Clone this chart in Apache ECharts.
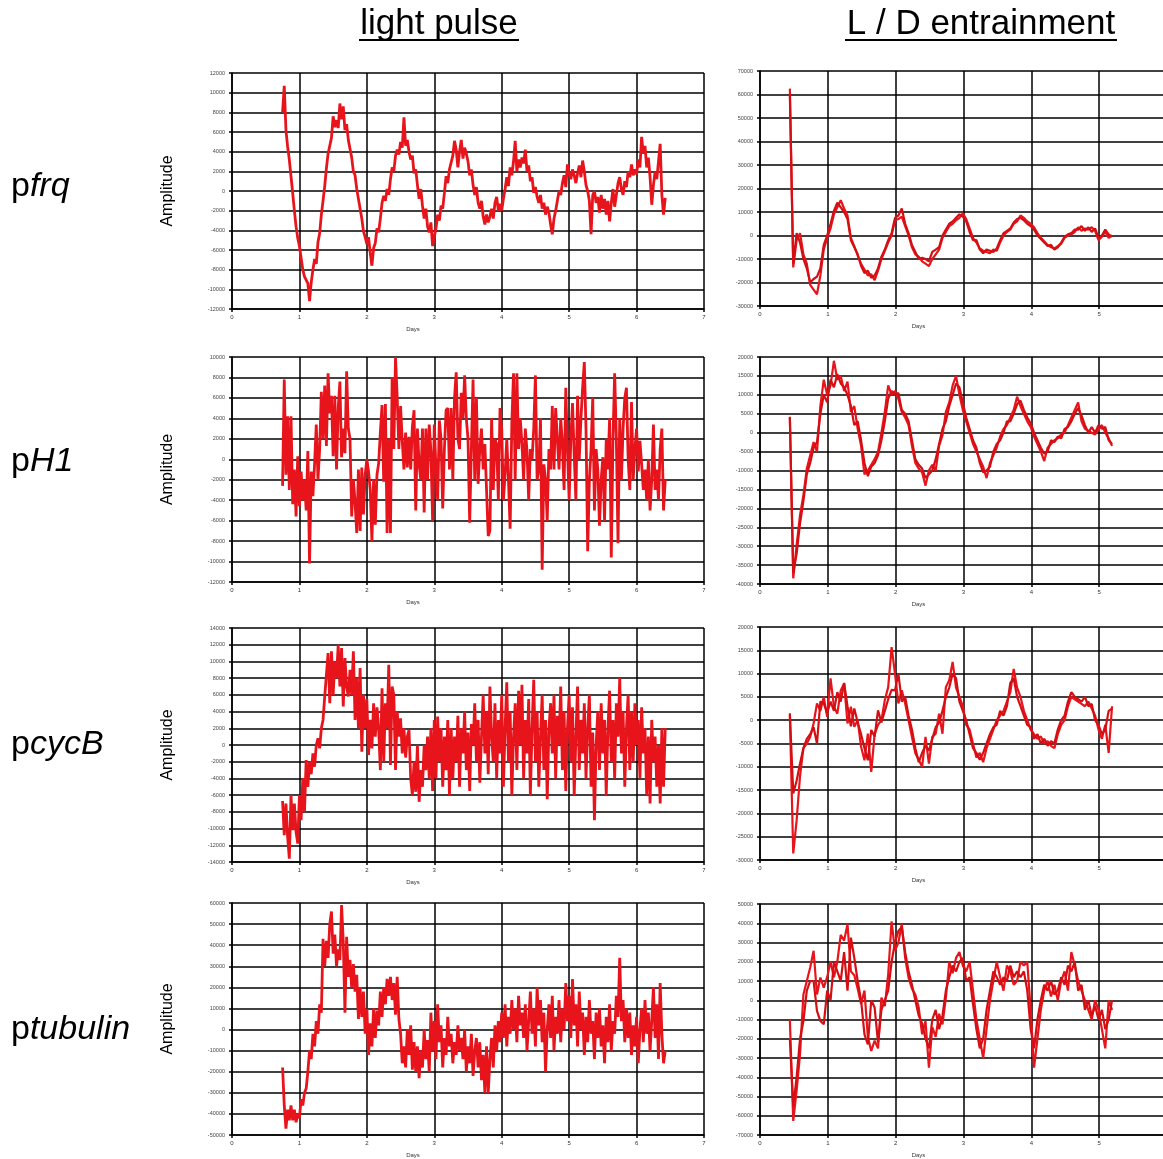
<!DOCTYPE html>
<html><head><meta charset="utf-8">
<script src="https://cdn.jsdelivr.net/npm/echarts@6/dist/echarts.min.js"></script>
<style>html,body{margin:0;padding:0;background:#fff;overflow:hidden}#c{width:1180px;height:1159px}</style>
</head><body><div id="c"></div>
<script>
// ---- sampling (days) ----
const pulseStart = 0.75, pulseStep = 0.025;
const ldStart = 0.44, ldStep = 0.05;

// ---- column titles / row labels ----
const columnTitles = ["light pulse", "L / D entrainment"];
const rowPrefix = ["p", "p", "p", "p"];
const rowGene = ["frq", "H1", "cycB", "tubulin"];

// ---- axis ranges ----
const pulseYMin = [-12000, -12000, -14000, -50000];
const pulseYMax = [12000, 10000, 14000, 60000];
const pulseYStep = [2000, 2000, 2000, 10000];
const ldYMin = [-30000, -40000, -30000, -70000];
const ldYMax = [70000, 20000, 20000, 50000];
const ldYStep = [10000, 5000, 5000, 10000];
const pulseXMax = 7, ldXMax = 6;

// ---- light pulse series ----
const pfrqPulse = [
8000,10700,6200,4500,3200,1500,-200,-2000,-3600,-4800,
-5600,-6800,-8000,-8700,-8800,-9400,-11200,-9300,-8000,-6900,
-7400,-5200,-4300,-2400,-1000,500,2300,3800,4600,5400,
7600,6500,7200,6400,8900,7300,8600,6200,6800,5200,
4300,3400,2000,1600,200,-800,-1800,-2800,-4100,-4700,
-5400,-4700,-6300,-7600,-5800,-5300,-3800,-4200,-2800,-1200,
-500,-1000,200,-400,1200,2400,2000,3600,4200,3700,
5000,4400,7500,4600,5200,4000,3200,3600,1800,2200,
600,-800,200,-1500,-2800,-1800,-3600,-4200,-3200,-5600,
-4600,-3800,-2400,-3000,-1500,-1800,-200,1500,800,2200,
2000,3600,5100,4200,2400,4000,5200,3300,4400,3800,
3000,1600,2200,600,-400,400,-1200,-1800,-1000,-2600,
-3400,-2400,-3200,-2600,-1800,-2800,-1200,-600,-2000,-1300,
-2000,-800,200,1400,500,2400,1600,3000,5100,2000,
3200,2400,3400,2800,4200,2000,2600,1000,1400,-200,
400,-600,-1200,-400,-1800,-1200,-2400,-1600,-2200,-3400,
-4400,-2800,-2000,-1000,0,-400,800,1600,400,2700,
1800,1200,2200,1600,800,1800,2600,1400,3100,2000,
600,0,-1000,-4400,-400,0,-1200,-600,-2200,-400,
-1800,-800,-2400,-1000,-3100,-1200,200,-1600,-400,800,
1400,200,-400,1000,400,2000,1400,2700,1600,2200,
1700,3200,2400,5500,3800,4600,2400,3400,1400,-1400,
600,2000,1200,3000,4800,-400,-2400,-700];

const pH1Pulse = [
-2600,7800,-1500,4200,-3000,4200,-4400,-1000,-5600,300,
-4600,-1200,-4000,-2000,-5000,800,-10200,-1200,-3600,-400,
3400,-2000,1000,6600,2000,7200,1300,8400,4500,6200,
300,6200,-1000,5000,7600,200,3000,600,8600,3000,
2000,-5600,-2000,-4200,-7200,-1000,-7000,-800,-5400,-1500,
0,-1200,-3000,-8000,-2000,-6400,-1500,-400,2600,5300,
-2200,5400,-7200,2000,-7200,8000,1000,10000,6000,1000,
5200,1800,-1000,2600,-800,2200,-1000,3200,4800,-5000,
3000,-500,-2000,3000,-5200,3000,-2000,3400,800,-6000,
3400,-1000,-4000,3800,2000,-4800,1000,4800,5000,-1000,
5000,-2000,6000,8500,2000,1000,6500,4000,8200,4000,
2000,-6200,1000,7800,-2000,6000,-2400,1000,3000,-1000,
1500,-3000,-7500,-7000,4000,-3000,2000,1500,-4000,5000,
3000,-4000,-1500,2000,-2000,-6800,3500,8400,-2000,8400,
1000,4000,1500,-2000,3000,800,-4000,1000,0,3000,
8200,-2000,-1000,4000,-10800,-500,-2000,-6000,1000,-1000,
5200,-1000,5000,2000,-1000,4000,1500,-3000,7000,1000,
-4000,2000,5500,400,-4000,6200,0,4000,7000,9500,
3000,-9000,-2000,1000,6000,-5000,1000,-1000,-6500,-2000,
200,-6000,2000,-1000,4000,-9600,2000,8400,2000,-8200,
4000,-2000,3000,6000,7000,0,-3000,5600,-2000,1000,
3000,-1200,1800,-500,-3000,-1000,-4000,0,-5000,-2000,
3400,-3000,-1000,-4000,1000,3000,-5000,-2000];

const pcycBPulse = [
-6700,-10800,-7000,-11000,-13600,-6000,-10200,-7000,-10400,-11800,
-6000,-9000,-4000,-8000,-1800,-5000,-2000,-3500,-1000,-2600,
0,800,-400,2000,3000,5800,6000,11000,5000,11200,
6000,10000,8000,12000,7000,11600,4600,10400,7000,5800,
9000,6000,11200,3000,8000,2000,9200,-800,6000,2000,
5500,-1200,3000,-400,5000,1000,4500,2000,-3000,6800,
-2000,5000,2000,9600,-2400,7000,6000,-3000,4000,1000,
3200,-1000,2000,-1500,1000,1800,-4000,-6000,-2000,-5600,
0,-6800,-3000,-5000,0,-3000,1000,-4000,2000,-5500,
3000,-4000,3400,-2000,2000,-5000,1000,-3000,3000,-6000,
2000,-4000,1000,-2000,3500,-5000,2000,-1000,4000,-3000,
1500,-5500,2500,0,5000,-2000,3000,-4500,1000,6000,
-1000,4000,-3500,7000,1000,-2000,5000,-4000,3000,-1000,
6000,-5000,2000,7500,-2000,4000,-6000,1000,5000,-3000,
6500,0,7200,-4000,3000,-1000,5500,-6000,2000,7800,
-2000,4000,-5000,1000,6000,-3000,3000,-6500,2000,5000,
-1000,6000,-4000,3500,0,7000,-3000,4000,-5500,2000,
6000,-2000,4500,-6000,1000,7000,-3000,3000,-1000,5000,
-4000,2000,6000,-5000,1500,-9000,0,4000,-3000,5000,
-1000,3000,-6000,2000,6500,-2000,3000,-4000,5000,1000,
8000,-1000,4000,-5000,2000,6000,-3000,4000,-2000,5000,
0,3000,-4000,4500,-1000,2000,-6000,1000,-7000,3000,
-2000,1000,-5000,0,-7000,2000,-5000,2000];

const ptubulinPulse = [
-18000,-36000,-47000,-38000,-43000,-36000,-43000,-38000,-44000,-40000,
-42000,-33000,-36000,-30000,-28000,-20000,-10000,-14000,-2000,-8000,
4000,-2000,12000,8000,43000,30000,42000,34000,50000,56000,
36000,45000,30000,38000,33000,59000,42000,8000,44000,25000,
33000,20000,31000,18000,26000,5000,20000,6000,18000,-2000,
10000,-12000,3000,-8000,10000,-4000,9000,2000,18000,6000,
20000,12000,24000,16000,25000,14000,22000,7000,25000,5000,
-2000,-16000,-8000,-18000,0,-12000,2000,-19000,-6000,-20000,
-8000,-23000,-10000,-18000,0,-14000,-5000,-20000,8000,-10000,
4000,-14000,12000,-6000,2000,-18000,-4000,-12000,6000,-8000,
-2000,-16000,-6000,-12000,2000,-10000,-4000,-14000,0,-20000,
-8000,-16000,-2000,-22000,-10000,-4000,-18000,-6000,-24000,-12000,
-30000,-8000,-30000,-14000,-4000,-18000,2000,-10000,4000,-6000,
8000,-4000,12000,-8000,6000,-2000,14000,0,10000,-6000,
16000,2000,8000,-4000,12000,-10000,4000,18000,-2000,10000,
-8000,20000,2000,14000,-6000,8000,-20000,0,12000,-4000,
16000,-10000,6000,-2000,14000,-6000,10000,0,22000,4000,
16000,-4000,24000,2000,12000,-8000,18000,0,8000,-12000,
6000,-6000,14000,-2000,4000,-14000,8000,-4000,10000,-8000,
2000,-16000,6000,-6000,12000,-10000,4000,-2000,16000,6000,
34000,4000,14000,-6000,10000,-4000,8000,-12000,2000,-8000,
6000,-16000,0,10000,-6000,14000,-2000,8000,-10000,4000,
20000,-4000,12000,-14000,22000,-2000,-16000,-10000];

// ---- L/D entrainment series (two replicates each) ----
const pfrqLD_A = [
62500,-13600,-2000,1000,-8000,-12000,-21000,-23000,-25000,-17000,
-6000,-1000,3000,9000,12000,15000,11500,8500,-1000,-4500,
-8500,-12000,-14500,-17000,-16500,-19000,-15000,-10000,-6500,-3000,
0,6500,7000,8000,4000,0,-5000,-8000,-9000,-11000,
-12000,-13000,-10000,-8000,-6000,-1000,1500,4000,5000,6500,
7500,9500,7000,3000,-1000,-3000,-5500,-6500,-7000,-7500,
-6000,-6500,-3000,0,1500,2500,5000,6000,8500,7500,
6000,5000,3500,1000,-1000,-2500,-4000,-5000,-5500,-4500,
-3500,-1000,0,500,1500,3500,2000,3000,2500,3500,
2000,-2000,-500,1500,-1000,0];
const pfrqLD_B = [
60000,-12000,1000,-3000,-10000,-14000,-20000,-18500,-17500,-14000,
-4000,0,5000,10500,14000,12000,10000,7000,-2000,-5000,
-8000,-13000,-16000,-15000,-18000,-17000,-14000,-9000,-6000,-2000,
1000,7500,8500,11500,5000,1000,-4000,-7000,-10000,-9500,
-10000,-11000,-7000,-6000,-5000,0,2500,5000,6000,7500,
9000,8000,6000,1500,-2000,-2000,-6000,-7500,-6000,-6500,
-7000,-5500,-2000,1000,2000,3000,5500,7000,7500,6500,
5000,4000,2500,0,-1500,-3000,-4500,-4000,-6000,-5000,
-3000,-500,500,1000,2500,2500,4000,2000,3500,1500,
3000,-1000,0,2500,500,-500];

const pH1LD_A = [
4200,-38500,-29700,-21800,-16500,-9500,-6000,-2500,-5000,7000,
14000,10000,12500,19000,14000,15000,11000,13500,5500,7000,
1000,-3500,-11000,-10000,-8500,-7000,-5000,0,5500,12500,
10000,11000,9000,5500,4000,2000,-3500,-8000,-9500,-10500,
-14000,-10000,-8500,-10000,-3500,-700,5500,8000,12500,15000,
10000,6000,3000,0,-3000,-5000,-7000,-9000,-12000,-8000,
-6000,-4000,-1000,1000,2000,4000,6000,9500,7000,5000,
3000,1500,-1000,-3000,-5000,-7500,-4000,-3000,-2000,-1500,
-500,0,2000,4000,6000,8000,3000,1000,500,0,
-500,1000,2000,0,-1500,-3500];
const pH1LD_B = [
4000,-37000,-32000,-24000,-18000,-11000,-8000,-4000,-2500,5000,
10000,8000,14000,12000,15500,13000,12000,10000,7000,2000,
3000,-2000,-8000,-11500,-9000,-8000,-6000,-2000,3000,9000,
11000,10000,10500,6000,5000,3000,-2000,-7000,-8500,-9500,
-12000,-11000,-10000,-7000,-3000,1000,3000,7000,10000,13000,
12000,8000,4000,1000,-2000,-4000,-8000,-10500,-10000,-9000,
-5000,-3000,-2000,0,3000,3000,5000,7500,8500,6000,
4000,2500,0,-2000,-4000,-5500,-5000,-2000,-2500,-1000,
-1500,1000,1500,3000,5000,6500,4500,2000,0,1500,
0,2000,1000,1500,-2000,-3000];

const pcycBLD_A = [
1000,-28600,-21500,-12000,-6000,-5000,-3600,-700,3600,2000,
5000,700,9000,2900,1400,6400,7900,-700,2900,-1400,
0,-5700,-8600,-2900,-11100,-3000,-1000,0,4300,7100,
15700,10000,3600,6400,3600,0,-3600,-7100,-8500,-10000,
-3600,-9300,-3600,-2900,1400,-2900,7100,8600,12500,7000,
5000,3000,-1000,-2000,-5000,-8000,-7000,-9000,-6000,-4000,
-2000,0,1000,2000,4000,6000,11000,7000,5000,2000,
0,-2000,-3000,-4000,-3500,-5000,-4500,-5500,-6000,-3000,
-1000,0,3000,5000,4500,4000,3500,3000,4000,2500,
1000,-2000,-4000,-1000,-7000,3000];
const pcycBLD_B = [
1500,-15700,-13000,-9300,-6000,-4000,-3000,-1500,-5000,4000,
3600,1500,4000,2000,6000,4000,8000,3000,-1300,2500,
-500,-3000,-6000,-8600,-2100,-3500,2100,-500,2000,4500,
6500,6400,10000,4000,5000,1000,-2000,-6000,-9000,-7000,
-5500,-6500,-4000,-1500,-500,2000,5000,7000,10000,9000,
4000,2000,0,-3000,-6000,-7000,-8500,-7000,-5000,-3000,
-1500,-1000,2000,1000,3000,8000,9000,5000,3000,1000,
-1000,-1500,-4000,-3000,-5000,-4000,-5500,-4500,-5000,-2000,
0,1000,4000,6000,5000,4500,4000,5000,3000,3500,
0,-1000,-3000,-2000,2000,2500];

const ptubulinLD_A = [
-10000,-62700,-47000,-28000,3000,10000,17000,25700,3000,11800,
6600,12000,20000,12000,20000,34000,31000,39500,15000,13000,
6000,-2000,5000,-19000,-26300,-21000,-25000,1400,-3000,13500,
41000,25700,30000,39500,22000,11800,6000,3000,-3800,-17700,
-10800,-35000,-14000,-19000,-7000,-12500,1400,20000,14000,22000,
25000,18000,15000,20000,5000,-10000,-20000,-30000,-15000,0,
10000,20000,12000,5000,18000,15000,8000,10000,20000,18000,
20000,-5000,-35000,-20000,-5000,5000,10000,2000,8000,0,
10000,15000,5000,25000,18000,10000,5000,0,-5000,-10000,
0,-5000,-15000,-25000,0,-5000];
const ptubulinLD_B = [
-20000,-55000,-40000,-20000,-10800,5000,10000,10000,-5500,-10800,
-12500,5000,0,20000,15000,10000,25000,5000,32500,22000,
10000,0,-17700,-23000,0,-3800,-22000,-5000,0,5000,
20000,30000,36000,38000,25000,15000,8000,0,-8000,-12000,
-20000,-25000,-10000,-5000,-15000,-8000,5000,12000,18000,15000,
20000,22000,10000,12000,-2000,-15000,-25000,-20000,-5000,5000,
15000,12000,8000,12000,10000,18000,12000,15000,12000,15000,
5000,-15000,-25000,-10000,0,8000,5000,10000,3000,5000,
12000,8000,18000,15000,20000,5000,8000,-5000,0,-8000,
-3000,-10000,-5000,-15000,-10000,0];

const pulseSeries = [pfrqPulse, pH1Pulse, pcycBPulse, ptubulinPulse];
const ldSeries = [[pfrqLD_A, pfrqLD_B], [pH1LD_A, pH1LD_B], [pcycBLD_A, pcycBLD_B], [ptubulinLD_A, ptubulinLD_B]];

function pairs(arr, start, step) {
  return arr.map((v, i) => [Math.round((start + i * step) * 1000) / 1000, v]);
}

// ---- layout ----
const leftGrid = [{top: 73, h: 236}, {top: 357, h: 225}, {top: 628, h: 234}, {top: 903, h: 235}];
const rightGrid = [{top: 71, h: 235}, {top: 357, h: 227}, {top: 627, h: 233}, {top: 904, h: 231}];
const rowLabelY = [187, 462, 745, 1030];

const FONT = '"Liberation Sans", Arial, sans-serif';
const RED = '#e8141b';
const grids = [], xAxes = [], yAxes = [], series = [];

function addPanel(g, left, width, xMax, yMin, yMax, yStep, withName, daysShift) {
  const idx = grids.length;
  grids.push({left: left, top: g.top, width: width, height: g.h, containLabel: false});
  xAxes.push({
    gridIndex: idx, type: 'value', min: 0, max: xMax, interval: 1,
    axisLine: {onZero: false, lineStyle: {color: '#000', width: 1.5}},
    axisTick: {show: true, length: 3, lineStyle: {color: '#000', width: 1.5}},
    axisLabel: {fontSize: 6, color: '#333', margin: 5, fontFamily: FONT},
    splitLine: {show: true, lineStyle: {color: '#000', width: 1.5}},
    name: 'Days', nameLocation: 'middle', nameGap: 17,
    nameTextStyle: {fontSize: 6, color: '#333', fontFamily: FONT, padding: [0, daysShift, 0, 0]}
  });
  yAxes.push({
    gridIndex: idx, type: 'value', min: yMin, max: yMax, interval: yStep,
    axisLine: {onZero: false, lineStyle: {color: '#000', width: 1.5}},
    axisTick: {show: true, length: 3, lineStyle: {color: '#000', width: 1.5}},
    axisLabel: {fontSize: 5.5, color: '#444', margin: 7, fontFamily: FONT, formatter: v => String(v)},
    splitLine: {show: true, lineStyle: {color: '#000', width: 1.5}},
    name: withName ? 'Amplitude' : '', nameLocation: 'middle', nameGap: 56, nameRotate: 90,
    nameTextStyle: {fontSize: 16, color: '#000', fontFamily: FONT}
  });
  return idx;
}

for (let r = 0; r < 4; r++) {
  const li = addPanel(leftGrid[r], 232, 472, pulseXMax, pulseYMin[r], pulseYMax[r], pulseYStep[r], true, 110);
  series.push({
    type: 'line', xAxisIndex: li, yAxisIndex: li, showSymbol: false, animation: false,
    data: pairs(pulseSeries[r], pulseStart, pulseStep),
    lineStyle: {color: RED, width: 2.8}, z: 3
  });
  const ri = addPanel(rightGrid[r], 760, 407, ldXMax, ldYMin[r], ldYMax[r], ldYStep[r], false, 90);
  ldSeries[r].forEach((arr, k) => {
    series.push({
      type: 'line', xAxisIndex: ri, yAxisIndex: ri, showSymbol: false, animation: false,
      data: pairs(arr, ldStart, ldStep),
      lineStyle: {color: k === 0 ? '#e8141b' : '#d40f14', width: 2.2}, z: 3
    });
  });
}

const graphic = [];
// column titles
const titleX = [439, 981];
const titleW = [160, 272];
columnTitles.forEach((t, i) => {
  graphic.push({type: 'text', x: titleX[i], y: 24,
    style: {text: t, font: '35px ' + FONT, fill: '#000', align: 'center', verticalAlign: 'middle'}});
  graphic.push({type: 'rect', shape: {x: titleX[i] - titleW[i] / 2, y: 39, width: titleW[i], height: 2},
    style: {fill: '#000'}});
});
// row labels
rowGene.forEach((g, i) => {
  graphic.push({type: 'text', x: 11, y: rowLabelY[i],
    style: {text: '{a|' + rowPrefix[i] + '}{b|' + g + '}', verticalAlign: 'middle',
      rich: {a: {font: '34px ' + FONT, fill: '#000'}, b: {font: 'italic 34px ' + FONT, fill: '#000'}}}});
});

const chart = echarts.init(document.getElementById('c'), null, {renderer: 'canvas'});
chart.setOption({
  animation: false, backgroundColor: '#fff',
  grid: grids, xAxis: xAxes, yAxis: yAxes, series: series, graphic: graphic
});
</script></body></html>
